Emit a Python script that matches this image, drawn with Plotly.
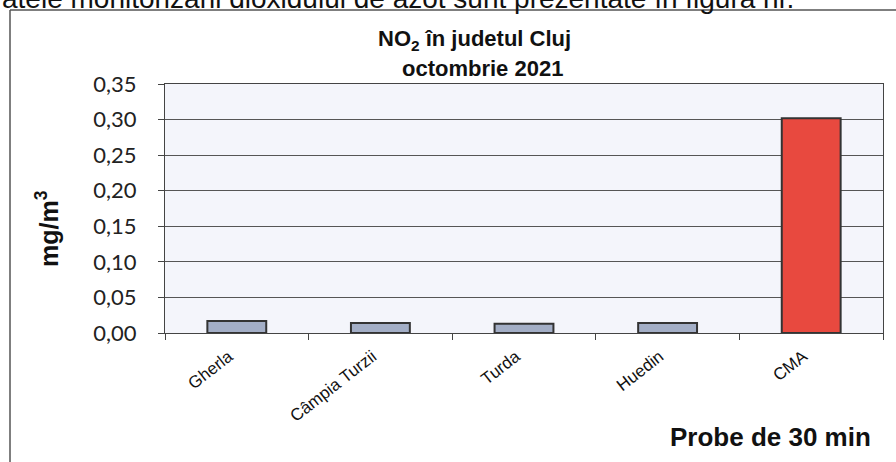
import plotly.graph_objects as go

categories = ["Gherla", "Câmpia Turzii", "Turda", "Huedin", "CMA"]
values = [0.017, 0.014, 0.013, 0.014, 0.302]
bar_colors = ["#a3aec6", "#a3aec6", "#a3aec6", "#a3aec6", "#e8493f"]
y_ticks = [0.00, 0.05, 0.10, 0.15, 0.20, 0.25, 0.30, 0.35]

W, H = 896, 462
L, R, T, B = 165, 13, 84, 129
pw, ph = W - L - R, H - T - B

def px_x(x):
    return (x - L) / pw

def px_y(y):
    return (H - B - y) / ph

fig = go.Figure()
fig.add_trace(go.Bar(
    x=categories, y=values,
    marker=dict(color=bar_colors, line=dict(color="#333333", width=2)),
    width=0.41,
))

title_font = dict(family="Liberation Sans, Arial", size=22, color="#111111")

fig.update_layout(
    width=W, height=H,
    margin=dict(l=L, r=R, t=T, b=B, autoexpand=False),
    paper_bgcolor="white",
    plot_bgcolor="#f4f5fb",
    separators=", ",
    showlegend=False,
    xaxis=dict(
        type="category",
        tickson="boundaries",
        ticks="outside", ticklen=6, tickcolor="#444444",
        tickangle=-38,
        ticklabelshift=-8,
        ticklabelstandoff=6,
        tickfont=dict(family="Liberation Sans, Arial", size=17, color="#111111"),
        showline=True, linecolor="#444444", linewidth=1, mirror=True,
        showgrid=False,
    ),
    yaxis=dict(
        range=[0, 0.35],
        tickvals=y_ticks,
        tickformat=".2f",
        ticks="outside", ticklen=6, tickcolor="#444444",
        tickfont=dict(family="Lato, Carlito, sans-serif", size=22, color="#222222"),
        showline=True, linecolor="#444444", linewidth=1, mirror=True,
        showgrid=True, gridcolor="#555555", gridwidth=1,
        zeroline=False,
        ticklabelstandoff=17,
    ),
    annotations=[
        dict(text="<b>NO<sub>2</sub> în judetul Cluj</b>",
             xref="paper", yref="paper", x=px_x(474), y=px_y(40),
             xanchor="center", yanchor="middle", showarrow=False, font=title_font),
        dict(text="<b>octombrie 2021</b>",
             xref="paper", yref="paper", x=px_x(482), y=px_y(69),
             xanchor="center", yanchor="middle", showarrow=False, font=title_font),
        dict(text="<b>mg/m<sup>3</sup></b>", textangle=-90,
             xref="paper", yref="paper", x=px_x(47), y=px_y(229),
             xanchor="center", yanchor="middle", showarrow=False,
             font=dict(family="Liberation Sans, Arial", size=25, color="#111111")),
        dict(text="<b>Probe de 30 min</b>",
             xref="paper", yref="paper", x=px_x(770), y=px_y(437),
             xanchor="center", yanchor="middle", showarrow=False,
             font=dict(family="Liberation Sans, Arial", size=26, color="#111111")),
        dict(text="atele monitorizării dioxidului de azot sunt prezentate în figura nr.",
             xref="paper", yref="paper", x=px_x(0), y=px_y(16),
             xanchor="left", yanchor="bottom", showarrow=False,
             font=dict(family="Liberation Sans, Arial", size=28, color="#111111")),
    ],
    shapes=[
        dict(type="line", xref="paper", yref="paper",
             x0=px_x(10), x1=px_x(10), y0=px_y(10), y1=px_y(462),
             line=dict(color="#555555", width=1.5)),
        dict(type="line", xref="paper", yref="paper",
             x0=px_x(10), x1=px_x(896), y0=px_y(10), y1=px_y(10),
             line=dict(color="#555555", width=1.5)),
    ],
)

fig.write_html("out.html", config={"displayModeBar": False},
               post_script="document.body.style.margin='0px';document.body.style.padding='0px';")
